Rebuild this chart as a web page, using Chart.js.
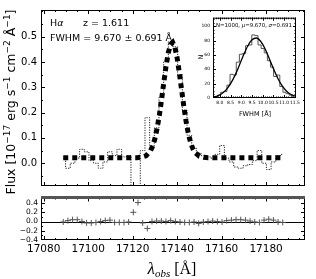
<!DOCTYPE html>
<html>
<head>
<meta charset="utf-8">
<script src="https://cdn.jsdelivr.net/npm/chart.js@4.4.1/dist/chart.umd.min.js"></script>
<style>
  html, body { margin: 0; padding: 0; background: #fff; }
  #wrap { position: relative; width: 316px; height: 279px; overflow: hidden; }
  canvas { position: absolute; }
</style>
</head>
<body>
<div id="wrap">
  <canvas id="main" width="316" height="196" style="left:0;top:0;width:316px;height:196px"></canvas>
  <canvas id="resid" width="316" height="89" style="left:0;top:190px;width:316px;height:89px"></canvas>
  <canvas id="inset" width="112" height="110" style="left:190px;top:12px;width:112px;height:110px"></canvas>
</div>
<script>
// spectrum pixels (observed wavelength, Angstrom)
const wave = [17088.8, 17090.9, 17093.0, 17095.1, 17097.2, 17099.3, 17101.4, 17103.5, 17105.6, 17107.7,
  17109.8, 17111.9, 17114.0, 17116.1, 17118.2, 17120.3, 17122.4, 17124.5, 17126.6, 17128.7,
  17130.8, 17132.9, 17135.0, 17137.1, 17139.2, 17141.3, 17143.4, 17145.5, 17147.6, 17149.7,
  17151.8, 17153.9, 17156.0, 17158.1, 17160.2, 17162.3, 17164.4, 17166.5, 17168.6, 17170.7,
  17172.8, 17174.9, 17177.0, 17179.1, 17181.2, 17183.3, 17185.4, 17187.5];
// observed flux (dotted steps)
const flux = [0.02, -0.02, 0.00, 0.02, 0.055, 0.045, 0.01, 0.0, -0.02, 0.005,
  0.045, 0.03, 0.055, 0.025, 0.03, -0.18, -0.38, 0.05, 0.18, 0.07,
  0.14, 0.26, 0.40, 0.48, 0.46, 0.35, 0.21, 0.11, 0.06, 0.04,
  0.03, 0.025, 0.02, 0.035, 0.07, 0.02, 0.005, -0.015, -0.02, -0.01,
  -0.005, 0.01, 0.05, 0.0, -0.025, 0.005, 0.03, 0.035];
// residuals (lower panel)
const resid = [-0.01, 0.02, 0.04, 0.04, 0.0, -0.03, -0.03, -0.02, 0.0, 0.02,
  0.03, -0.02, -0.02, -0.02, -0.01, 0.2, 0.41, -0.03, -0.15, 0.0,
  0.01, 0.01, 0.0, 0.02, 0.0, -0.01, -0.02, -0.02, -0.01, -0.04,
  -0.01, 0.0, 0.01, 0.0, -0.01, 0.02, 0.03, 0.04, 0.04, 0.03,
  0.01, -0.01, -0.02, 0.03, 0.05, 0.03, -0.01, -0.02];
// gaussian fit (thick dashed line)
const modelWave = [17088.8, 17100, 17110, 17118, 17122, 17124, 17126, 17128, 17129, 17130,
  17131, 17132, 17133, 17134, 17135, 17136, 17137, 17138, 17139, 17140,
  17141, 17142, 17143, 17144, 17145, 17146, 17147, 17148, 17150, 17152,
  17154, 17160, 17170, 17180, 17187.5];
const modelFlux = [0.022, 0.022, 0.022, 0.022, 0.022, 0.0236, 0.0292, 0.0481, 0.0675, 0.0965,
  0.137, 0.189, 0.251, 0.318, 0.382, 0.435, 0.468, 0.477, 0.458, 0.416,
  0.357, 0.291, 0.226, 0.167, 0.119, 0.0836, 0.0587, 0.0426, 0.0275, 0.0231,
  0.022, 0.022, 0.022, 0.022, 0.022];

// inset: FWHM distribution
const histEdges = [7.75, 7.895, 8.04, 8.185, 8.33, 8.475, 8.62, 8.765, 8.91, 9.055,
  9.2, 9.345, 9.49, 9.635, 9.78, 9.925, 10.07, 10.215, 10.36, 10.505,
  10.65, 10.795, 10.94, 11.085, 11.23, 11.375];
const histCounts = [2, 4, 8, 9, 18, 33, 32, 50, 61, 62,
  73, 74, 88, 87, 74, 69, 63, 52, 43, 30,
  32, 16, 8, 6, 4];
const gaussX = [7.7, 7.9, 8.1, 8.3, 8.5, 8.7, 8.9, 9.1, 9.3, 9.5,
  9.7, 9.9, 10.1, 10.3, 10.5, 10.7, 10.9, 11.1, 11.3, 11.5];
const gaussY = [1.4, 3.1, 6.3, 11.7, 20.0, 31.2, 45.0, 59.6, 72.5, 81.2,
  83.7, 79.2, 69.0, 55.2, 40.7, 27.6, 17.2, 9.8, 5.2, 2.5];

// tick labels
const xTicks = [17080, 17100, 17120, 17140, 17160, 17180];
const fluxTicks = [0.0, 0.1, 0.2, 0.3, 0.4, 0.5];
const residTicks = [-0.4, -0.2, 0.0, 0.2, 0.4];
const histXTicks = [8.0, 8.5, 9.0, 9.5, 10.0, 10.5, 11.0, 11.5];
const histYTicks = [0, 20, 40, 60, 80, 100];

const SANS = 'DejaVu Sans';

function rich(ctx, parts, x, y, align) {
  let w = 0;
  parts.forEach(p => { ctx.font = p[1]; w += ctx.measureText(p[0]).width; });
  let cx = align === 'center' ? x - w / 2 : x;
  parts.forEach(p => {
    ctx.font = p[1];
    ctx.fillText(p[0], cx, y + (p[2] || 0));
    cx += ctx.measureText(p[0]).width;
  });
}

function steps(min, max, step) {
  const out = [];
  for (let v = Math.ceil(min / step - 1e-9) * step; v <= max + 1e-9; v += step) out.push(v);
  return out;
}

// box + inward ticks on all four sides
const framePlugin = {
  id: 'frame',
  afterDatasetsDraw(chart, args, o) {
    const { ctx, chartArea: a, scales } = chart;
    ctx.save();
    ctx.strokeStyle = '#000';
    ctx.lineWidth = 1;
    ctx.strokeRect(a.left + 0.5, a.top + 0.5, a.right - a.left - 1, a.bottom - a.top - 1);
    ctx.beginPath();
    const xs = (vals, len) => vals.forEach(v => {
      const p = Math.round(scales.x.getPixelForValue(v)) + 0.5;
      if (p < a.left || p > a.right) return;
      ctx.moveTo(p, a.bottom); ctx.lineTo(p, a.bottom - len);
      ctx.moveTo(p, a.top); ctx.lineTo(p, a.top + len);
    });
    const ys = (vals, len) => vals.forEach(v => {
      const p = Math.round(scales.y.getPixelForValue(v)) + 0.5;
      if (p < a.top || p > a.bottom) return;
      ctx.moveTo(a.left, p); ctx.lineTo(a.left + len, p);
      ctx.moveTo(a.right, p); ctx.lineTo(a.right - len, p);
    });
    xs(o.xMajor, o.major); ys(o.yMajor, o.major);
    if (o.xMinor) xs(steps(scales.x.min, scales.x.max, o.xMinor), o.minor);
    if (o.yMinor) ys(steps(scales.y.min, scales.y.max, o.yMinor), o.minor);
    ctx.stroke();
    ctx.restore();
  }
};

const mainText = {
  id: 'mainText',
  afterDraw(chart) {
    const ctx = chart.ctx;
    ctx.save();
    ctx.fillStyle = '#000';
    ctx.textBaseline = 'alphabetic';
    const f = '9.5px ' + SANS;
    rich(ctx, [['H', f], ['α', 'italic ' + f]], 50, 26);
    rich(ctx, [['z = 1.611', f]], 83, 26);
    rich(ctx, [['FWHM = 9.670 ± 0.691 Å', f]], 50, 41);
    // y label
    ctx.translate(15, 102);
    ctx.rotate(-Math.PI / 2);
    const F = '12.5px ' + SANS, S = '9px ' + SANS;
    rich(ctx, [['Flux [10', F], ['−17', S, -5], [' erg s', F], ['−1', S, -5], [' cm', F],
      ['−2', S, -5], [' Å', F], ['−1', S, -5], [']', F]], 0, 0, 'center');
    ctx.restore();
  }
};

const residText = {
  id: 'residText',
  beforeDatasetsDraw(chart) {
    const { ctx, chartArea: a, scales } = chart;
    ctx.save();
    const y0 = Math.round(scales.y.getPixelForValue(0)) + 0.5;
    ctx.strokeStyle = '#000';
    ctx.lineWidth = 1;
    ctx.beginPath(); ctx.moveTo(a.left, y0); ctx.lineTo(a.right, y0); ctx.stroke();
    ctx.restore();
  },
  afterDraw(chart) {
    const { ctx, chartArea: a } = chart;
    ctx.save();
    ctx.fillStyle = '#555';
    ctx.fillRect(a.left, a.top - 1.5, a.right - a.left, 3);
    ctx.fillStyle = '#000';
    ctx.textBaseline = 'alphabetic';
    rich(ctx, [['λ', 'italic 17px Liberation Serif'], ['obs', 'italic 11px Liberation Serif', 3],
      [' [Å]', '16px Liberation Serif']], 172, 84, 'center');
    ctx.restore();
  }
};

const insetText = {
  id: 'insetText',
  afterDraw(chart) {
    const ctx = chart.ctx;
    ctx.save();
    ctx.fillStyle = '#000';
    ctx.textBaseline = 'alphabetic';
    const f = '5.4px ' + SANS, fi = 'italic 5.4px ' + SANS;
    rich(ctx, [['N=1000, ', f], ['μ', fi], ['=9.670, ', f], ['σ', fi], ['=0.691', f]], 64, 15, 'center');
    rich(ctx, [['FWHM [Å]', '6.5px ' + SANS]], 65, 104, 'center');
    ctx.translate(13, 45);
    ctx.rotate(-Math.PI / 2);
    rich(ctx, [['N', '6.5px ' + SANS]], 0, 0, 'center');
    ctx.restore();
  }
};

const common = {
  responsive: false,
  animation: false,
  events: [],
  plugins: { legend: { display: false }, tooltip: { enabled: false } }
};

function yScale(min, max, ticks, width, size, pad, fmt) {
  return {
    type: 'linear', min, max,
    afterFit(s) { s.width = width; },
    afterBuildTicks(s) { s.ticks = ticks.map(v => ({ value: v })); },
    grid: { display: false, drawTicks: false },
    border: { display: false },
    ticks: { padding: pad, color: '#000', autoSkip: false, font: { family: SANS, size }, callback: fmt }
  };
}

new Chart(document.getElementById('main'), {
  type: 'line',
  data: {
    datasets: [
      { data: modelWave.map((x, i) => ({ x, y: modelFlux[i] })), borderColor: '#000', borderWidth: 5,
        borderDash: [5, 4], pointRadius: 0, tension: 0 },
      { data: wave.map((x, i) => ({ x, y: flux[i] })), borderColor: '#222', borderWidth: 1,
        borderDash: [1.2, 1.3], stepped: 'middle', pointRadius: 0 }
    ]
  },
  options: {
    ...common,
    layout: { padding: { left: 0, right: 11, top: 9, bottom: 2 } },
    plugins: { ...common.plugins,
      frame: { xMajor: xTicks, yMajor: fluxTicks, major: 4, minor: 2, xMinor: 5, yMinor: 0.05 } },
    scales: {
      x: { type: 'linear', min: 17078.8, max: 17197.5, display: false },
      y: yScale(-0.09, 0.605, fluxTicks, 41, 10, 4, v => v.toFixed(1))
    }
  },
  plugins: [framePlugin, mainText]
});

new Chart(document.getElementById('resid'), {
  type: 'scatter',
  data: {
    datasets: [
      { data: wave.map((x, i) => ({ x, y: resid[i] })), pointStyle: 'cross', pointRadius: 3,
        borderColor: '#555', borderWidth: 1 }
    ]
  },
  options: {
    ...common,
    layout: { padding: { left: 0, right: 11, top: 4, bottom: 0 } },
    plugins: { ...common.plugins,
      frame: { xMajor: xTicks, yMajor: residTicks, major: 4, minor: 2, xMinor: 5, yMinor: 0.1 } },
    scales: {
      x: {
        type: 'linear', min: 17078.8, max: 17197.5,
        afterFit(s) { s.height = 39; },
        afterBuildTicks(s) { s.ticks = xTicks.map(v => ({ value: v })); },
        grid: { display: false, drawTicks: false },
        border: { display: false },
        ticks: { padding: 3, color: '#000', autoSkip: false, maxRotation: 0,
          font: { family: SANS, size: 10.5 }, callback: v => String(v) }
      },
      y: yScale(-0.4, 0.52, residTicks, 41, 7.5, 3,
        v => (v < -1e-9 ? '−' : '') + Math.abs(v).toFixed(1))
    }
  },
  plugins: [framePlugin, residText]
});

// histogram outline: rise at the first edge, one flat step per bin, drop at the last edge
const histPts = [{ x: histEdges[0], y: 0 }];
histCounts.forEach((c, i) => histPts.push({ x: histEdges[i], y: c }));
histPts.push({ x: histEdges[histEdges.length - 1], y: 0 });

new Chart(document.getElementById('inset'), {
  type: 'line',
  data: {
    datasets: [
      { data: gaussX.map((x, i) => ({ x, y: gaussY[i] })), borderColor: '#000', borderWidth: 1.3,
        pointRadius: 0, cubicInterpolationMode: 'monotone' },
      { data: histPts, borderColor: '#555', borderWidth: 1, stepped: 'before', pointRadius: 0 }
    ]
  },
  options: {
    ...common,
    layout: { padding: { left: 0, right: 5, top: 3, bottom: 0 } },
    plugins: { ...common.plugins,
      frame: { xMajor: histXTicks, yMajor: histYTicks, major: 3, minor: 1.5, xMinor: 0.1, yMinor: 5 } },
    scales: {
      x: {
        type: 'linear', min: 7.68, max: 11.55,
        afterFit(s) { s.height = 24; },
        afterBuildTicks(s) { s.ticks = histXTicks.map(v => ({ value: v })); },
        grid: { display: false, drawTicks: false },
        border: { display: false },
        ticks: { padding: 2, color: '#000', autoSkip: false, maxRotation: 0,
          font: { family: SANS, size: 4.5 }, callback: v => v.toFixed(1) }
      },
      y: yScale(0, 112, histYTicks, 23, 4.5, 3, v => String(v))
    }
  },
  plugins: [framePlugin, insetText]
});
</script>
</body>
</html>
